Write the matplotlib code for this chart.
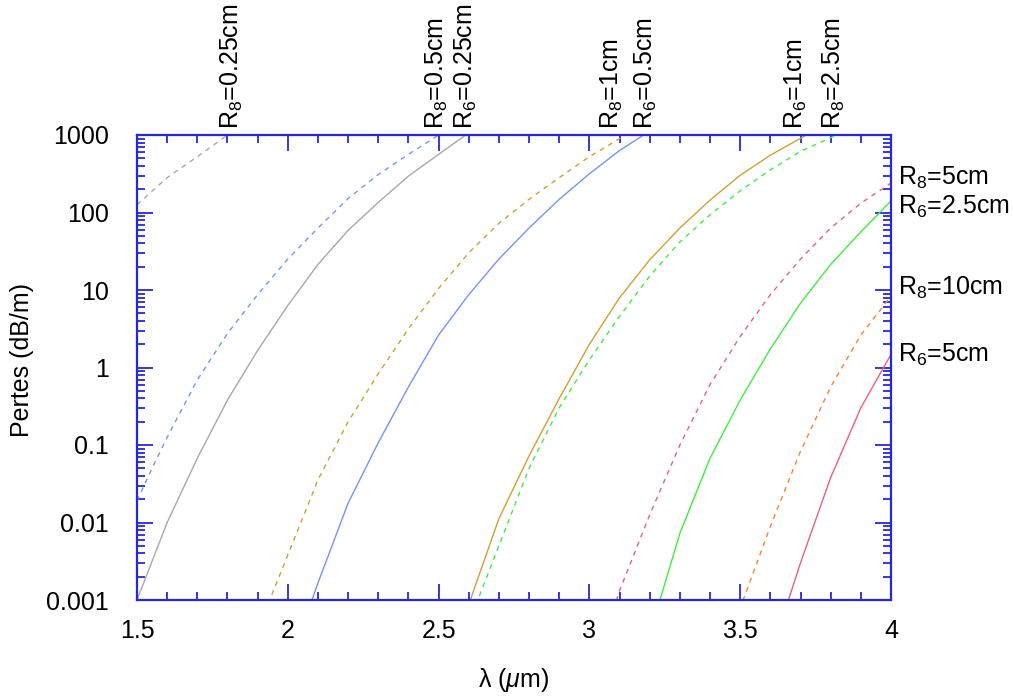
import numpy as np
import matplotlib
matplotlib.use("Agg")
import matplotlib.pyplot as plt
from matplotlib.ticker import FixedLocator, MultipleLocator, LogLocator, NullFormatter, FixedFormatter
import matplotlib.transforms as mtransforms

plt.rcParams['font.family'] = ['Liberation Sans', 'DejaVu Sans']
plt.rcParams['mathtext.fontset'] = 'custom'
plt.rcParams['mathtext.rm'] = 'Liberation Sans'
plt.rcParams['mathtext.it'] = 'Liberation Sans:italic'

# ---- data: wavelength (um) and log10 of losses (dB/m) ----
lam_r8_025 = [1.5, 1.6, 1.7, 1.8, 1.85]
log_r8_025 = [2.1, 2.45, 2.72, 3.0, 3.12]

lam_r6_025 = [1.5, 1.6, 1.7, 1.8, 1.9, 2.0, 2.1, 2.2, 2.3, 2.4, 2.5, 2.59, 2.65]
log_r6_025 = [-3.0, -2.0, -1.17, -0.42, 0.22, 0.8, 1.33, 1.77, 2.13, 2.47, 2.75, 3.0, 3.15]

lam_r8_05 = [1.5, 1.55, 1.6, 1.7, 1.8, 1.9, 2.0, 2.1, 2.2, 2.3, 2.4, 2.5, 2.55]
log_r8_05 = [-1.72, -1.3, -0.9, -0.16, 0.44, 0.94, 1.4, 1.8, 2.18, 2.49, 2.75, 3.0, 3.1]

lam_r6_05 = [2.05, 2.08, 2.1, 2.2, 2.3, 2.4, 2.5, 2.6, 2.7, 2.8, 2.9, 3.0, 3.1, 3.18, 3.25]
log_r6_05 = [-3.3, -3.0, -2.78, -1.75, -0.97, -0.25, 0.42, 0.94, 1.4, 1.8, 2.17, 2.5, 2.8, 3.0, 3.15]

lam_r8_1 = [1.9, 1.94, 2.0, 2.1, 2.2, 2.3, 2.4, 2.5, 2.6, 2.7, 2.8, 2.9, 3.0, 3.12, 3.2]
log_r8_1 = [-3.4, -3.0, -2.42, -1.45, -0.7, -0.08, 0.5, 1.02, 1.48, 1.86, 2.17, 2.45, 2.72, 3.0, 3.15]

lam_r6_1 = [2.58, 2.605, 2.7, 2.8, 2.9, 3.0, 3.1, 3.2, 3.3, 3.4, 3.5, 3.6, 3.72, 3.8]
log_r6_1 = [-3.3, -3.0, -1.95, -1.14, -0.4, 0.3, 0.9, 1.39, 1.8, 2.16, 2.48, 2.74, 3.0, 3.15]

lam_r8_25 = [2.6, 2.63, 2.7, 2.8, 2.9, 3.0, 3.1, 3.2, 3.3, 3.4, 3.5, 3.6, 3.7, 3.82, 3.9]
log_r8_25 = [-3.3, -3.0, -2.3, -1.3, -0.52, 0.1, 0.66, 1.18, 1.62, 1.97, 2.28, 2.55, 2.79, 3.0, 3.12]

lam_r6_25 = [3.21, 3.234, 3.3, 3.4, 3.5, 3.6, 3.7, 3.8, 3.9, 4.0]
log_r6_25 = [-3.3, -3.0, -2.14, -1.17, -0.42, 0.24, 0.83, 1.33, 1.75, 2.15]

lam_r8_5 = [3.07, 3.09, 3.1, 3.2, 3.3, 3.4, 3.5, 3.6, 3.7, 3.8, 3.9, 4.0]
log_r8_5 = [-3.25, -3.0, -2.88, -1.9, -1.0, -0.22, 0.4, 0.94, 1.4, 1.8, 2.12, 2.38]

lam_r6_5 = [3.64, 3.66, 3.7, 3.8, 3.9, 4.0]
log_r6_5 = [-3.25, -3.0, -2.52, -1.42, -0.52, 0.17]

lam_r8_10 = [3.49, 3.51, 3.6, 3.7, 3.8, 3.9, 4.0]
log_r8_10 = [-3.25, -3.0, -2.05, -1.08, -0.25, 0.42, 0.92]

x_ticks = [1.5, 2, 2.5, 3, 3.5, 4]
x_ticklabels = ['1.5', '2', '2.5', '3', '3.5', '4']
y_ticks = [0.001, 0.01, 0.1, 1, 10, 100, 1000]
y_ticklabels = ['0.001', '0.01', '0.1', '1', '10', '100', '1000']

top_labels = [r'R$_8$=0.25cm', r'R$_8$=0.5cm', r'R$_6$=0.25cm', r'R$_8$=1cm',
              r'R$_6$=0.5cm', r'R$_6$=1cm', r'R$_8$=2.5cm']
top_label_x = [1.815, 2.495, 2.591, 3.075, 3.187, 3.685, 3.811]
right_labels = [r'R$_8$=5cm', r'R$_6$=2.5cm', r'R$_8$=10cm', r'R$_6$=5cm']
right_label_y = [280, 118, 10.5, 1.45]

# ---- styles ----
gray = '#a8a8a8'
blue = '#7393ff'
gold = '#d2a030'
green = '#3cf03c'
pink = '#e8607e'
orange = '#ff8030'
frame = '#2626e0'
dash = (0, (3.5, 3.5))
fs = 18

series = [
    (lam_r8_025, log_r8_025, gray, dash),
    (lam_r6_025, log_r6_025, gray, '-'),
    (lam_r8_05, log_r8_05, blue, dash),
    (lam_r6_05, log_r6_05, blue, '-'),
    (lam_r8_1, log_r8_1, gold, dash),
    (lam_r6_1, log_r6_1, gold, '-'),
    (lam_r8_25, log_r8_25, green, dash),
    (lam_r6_25, log_r6_25, green, '-'),
    (lam_r8_5, log_r8_5, pink, dash),
    (lam_r6_5, log_r6_5, pink, '-'),
    (lam_r8_10, log_r8_10, orange, dash),
]

fig = plt.figure(figsize=(10.13, 6.97), dpi=100)
ax = fig.add_axes([137 / 1013, 1 - 600 / 697, 754 / 1013, 465 / 697])

for lam, lg, col, ls in series:
    ax.plot(lam, 10 ** np.array(lg), color=col, linestyle=ls, linewidth=1.0)

ax.set_yscale('log')
ax.set_xlim(1.5, 4.0)
ax.set_ylim(1e-3, 1e3)

ax.xaxis.set_major_locator(FixedLocator(x_ticks))
ax.xaxis.set_major_formatter(FixedFormatter(x_ticklabels))
ax.xaxis.set_minor_locator(MultipleLocator(0.1))
ax.yaxis.set_major_locator(FixedLocator(y_ticks))
ax.yaxis.set_major_formatter(FixedFormatter(y_ticklabels))
ax.yaxis.set_minor_locator(LogLocator(base=10, subs=np.arange(2, 10), numticks=20))
ax.yaxis.set_minor_formatter(NullFormatter())

ax.tick_params(which='both', direction='in', top=True, right=True, color=frame,
               width=1.3, labelsize=fs, labelcolor='black')
ax.tick_params(which='major', length=11.5)
ax.tick_params(which='minor', length=5.8)
ax.tick_params(axis='x', which='major', pad=14)
ax.tick_params(axis='y', which='major', pad=20)
for sp in ax.spines.values():
    sp.set_color(frame)
    sp.set_linewidth(1.6)

ax.set_xlabel(r'λ ($\mu$m)', fontsize=fs, labelpad=16)
fig.text(22 / 1013, 1 - 360 / 697, 'Pertes (dB/m)', rotation=90, ha='center', va='center', fontsize=fs)

trans_top = mtransforms.blended_transform_factory(ax.transData, ax.transAxes)
for lab, xv in zip(top_labels, top_label_x):
    ax.annotate(lab, xy=(xv, 1.0), xycoords=trans_top, xytext=(0, 4), textcoords='offset points',
                rotation=90, ha='center', va='bottom', fontsize=fs, annotation_clip=False)

for lab, yv in zip(right_labels, right_label_y):
    ax.annotate(lab, xy=(4.0, yv), xycoords='data', xytext=(5, 0), textcoords='offset points',
                ha='left', va='center', fontsize=fs, annotation_clip=False)

fig.savefig('out.png', dpi=100)
